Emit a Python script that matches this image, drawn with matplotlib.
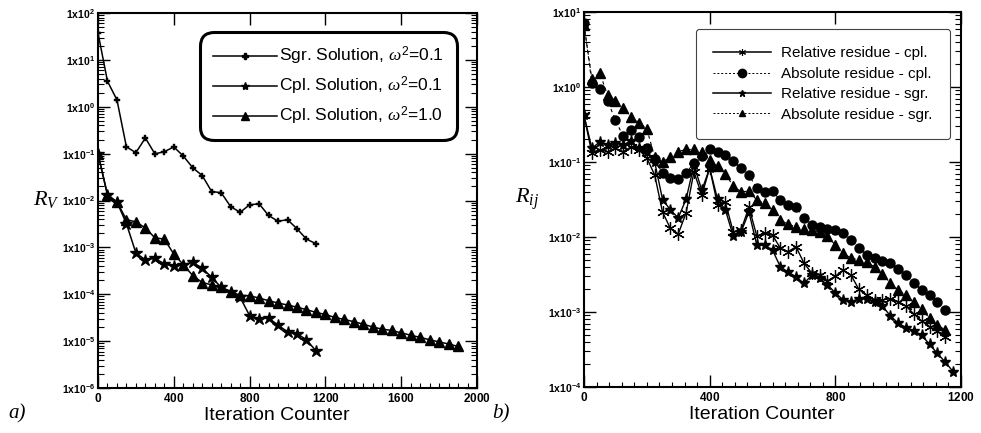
import numpy as np
import matplotlib
matplotlib.use("Agg")
import matplotlib.pyplot as plt
from matplotlib.lines import Line2D
from matplotlib.ticker import FixedLocator, FuncFormatter, LogLocator, MultipleLocator, NullFormatter

plt.rcParams['font.family'] = ['Liberation Sans', 'DejaVu Sans']
plt.rcParams['mathtext.fontset'] = 'custom'
plt.rcParams['mathtext.rm'] = 'Liberation Sans'
plt.rcParams['mathtext.bf'] = 'Liberation Sans:bold'
plt.rcParams['mathtext.it'] = 'Liberation Serif:italic'

# ---------------- data: panel a) ----------------
sgr_x = [0, 50, 100, 150, 200, 250, 300, 350, 400, 450, 500, 550, 600, 650, 700, 750,
         800, 850, 900, 950, 1000, 1050, 1100, 1150]
sgr_y = [37.5, 3.5, 1.4, 0.139, 0.105, 0.216, 0.099, 0.11, 0.139, 0.089, 0.05, 0.034,
         0.0155, 0.0147, 0.0074, 0.0056, 0.0081, 0.0085, 0.0048, 0.0036, 0.0039, 0.0025,
         0.0015, 0.0012]

cpl01_x = sgr_x
cpl01_y = [0.099, 0.0132, 0.0093, 0.0032, 7.6e-4, 5.4e-4, 5.9e-4, 4.4e-4, 4.0e-4, 4.3e-4,
           4.8e-4, 3.6e-4, 2.3e-4, 1.4e-4, 1.14e-4, 8.6e-5, 3.5e-5, 3.0e-5, 3.1e-5, 2.2e-5,
           1.58e-5, 1.44e-5, 1.07e-5, 6.2e-6]

cpl10_x = [0, 50, 100, 150, 200, 250, 300, 350, 400, 450, 500, 550, 600, 650, 700, 750,
           800, 850, 900, 950, 1000, 1050, 1100, 1150, 1200, 1250, 1300, 1350, 1400, 1450,
           1500, 1550, 1600, 1650, 1700, 1750, 1800, 1850, 1900]
cpl10_y = [0.099, 0.0132, 0.0093, 0.0039, 0.0035, 0.0026, 0.0016, 0.0015, 7.2e-4, 4.3e-4,
           2.5e-4, 1.78e-4, 1.59e-4, 1.41e-4, 1.14e-4, 9.5e-5, 9.3e-5, 8.3e-5, 7.3e-5, 6.5e-5,
           5.9e-5, 5.3e-5, 4.7e-5, 4.1e-5, 3.7e-5, 3.2e-5, 2.9e-5, 2.6e-5, 2.3e-5, 2.0e-5,
           1.8e-5, 1.69e-5, 1.5e-5, 1.34e-5, 1.2e-5, 1.07e-5, 9.6e-6, 8.7e-6, 7.7e-6]

labels_a = [r'Sgr. Solution, $\omega^2$=0.1', r'Cpl. Solution, $\omega^2$=0.1',
            r'Cpl. Solution, $\omega^2$=1.0']

# ---------------- data: panel b) ----------------
res_x = [0, 25, 50, 75, 100, 125, 150, 175, 200, 225, 250, 275, 300, 325, 350, 375, 400,
         425, 450, 475, 500, 525, 550, 575, 600, 625, 650, 675, 700, 725, 750, 775, 800,
         825, 850, 875, 900, 925, 950, 975, 1000, 1025, 1050, 1075, 1100, 1125, 1150]
abs_cpl = [7.1, 1.13, 0.94, 0.66, 0.36, 0.22, 0.27, 0.215, 0.152, 0.109, 0.071, 0.061,
           0.059, 0.071, 0.098, 0.12, 0.147, 0.137, 0.124, 0.104, 0.082, 0.067, 0.0446,
           0.040, 0.0407, 0.031, 0.0267, 0.0249, 0.018, 0.0144, 0.0137, 0.0127, 0.0124,
           0.0114, 0.0091, 0.0071, 0.0058, 0.0052, 0.0048, 0.0045, 0.0038, 0.0031, 0.00246,
           0.00196, 0.00169, 0.00137, 0.00106]
abs_sgr = [6.7, 1.28, 1.54, 0.78, 0.66, 0.53, 0.40, 0.336, 0.275, 0.117, 0.10, 0.117, 0.138,
           0.147, 0.147, 0.136, 0.106, 0.088, 0.069, 0.048, 0.040, 0.041, 0.031, 0.028,
           0.023, 0.0169, 0.0147, 0.0137, 0.0128, 0.0124, 0.0116, 0.0103, 0.0078, 0.0061,
           0.0052, 0.0050, 0.0046, 0.0040, 0.0032, 0.00244, 0.00196, 0.00166, 0.00134,
           0.00108, 8.3e-4, 6.7e-4, 5.75e-4]
rel_cpl = [0.42, 0.13, 0.145, 0.137, 0.153, 0.137, 0.16, 0.145, 0.113, 0.067, 0.0215, 0.013,
           0.011, 0.021, 0.074, 0.036, 0.083, 0.027, 0.029, 0.0117, 0.0124, 0.025, 0.0103,
           0.0113, 0.0106, 0.0071, 0.0064, 0.0074, 0.0045, 0.0033, 0.0031, 0.0026, 0.0030,
           0.0036, 0.0031, 0.0020, 0.00166, 0.00145, 0.00145, 0.0015, 0.00138, 0.0012,
           9.4e-4, 7.6e-4, 6.4e-4, 5.5e-4, 4.6e-4]
rel_sgr_x = res_x + [1175]
rel_sgr = [0.42, 0.152, 0.185, 0.17, 0.18, 0.17, 0.19, 0.152, 0.137, 0.1, 0.0316, 0.023,
           0.018, 0.032, 0.091, 0.042, 0.083, 0.032, 0.023, 0.0103, 0.0117, 0.0215, 0.0078,
           0.0078, 0.0067, 0.0040, 0.0034, 0.00295, 0.0024, 0.0031, 0.0028, 0.0023, 0.0018,
           0.00145, 0.00137, 0.0015, 0.0015, 0.00137, 0.0012, 8.9e-4, 7.1e-4, 6.2e-4,
           5.6e-4, 4.9e-4, 3.7e-4, 2.8e-4, 2.15e-4, 1.6e-4]

labels_b = ['Relative residue - cpl.', 'Absolute residue - cpl.',
            'Relative residue - sgr.', 'Absolute residue - sgr.']

ASTER = (6, 2, 0)


def dec_fmt(v, pos):
    e = int(round(np.log10(v)))
    return r'$\mathbf{1x10^{%d}}$' % e


def int_fmt(v, pos):
    return r'$\mathbf{%d}$' % int(round(v))


def style(ax, xmax, xmajor, xminor, emin, emax):
    ax.set_yscale('log')
    ax.set_xlim(0, xmax)
    ax.set_ylim(10.0 ** emin, 10.0 ** emax)
    ax.xaxis.set_major_locator(MultipleLocator(xmajor))
    ax.xaxis.set_minor_locator(MultipleLocator(xminor))
    ax.xaxis.set_major_formatter(FuncFormatter(int_fmt))
    ax.yaxis.set_major_locator(FixedLocator([10.0 ** e for e in range(emin, emax + 1)]))
    ax.yaxis.set_minor_locator(LogLocator(base=10, subs=np.arange(2, 10), numticks=100))
    ax.yaxis.set_minor_formatter(NullFormatter())
    ax.yaxis.set_major_formatter(FuncFormatter(dec_fmt))
    ax.tick_params(which='both', direction='in', top=True, right=True)
    ax.tick_params(which='major', length=8.5, width=1.0)
    ax.tick_params(which='minor', length=4.5, width=0.8)
    ax.tick_params(axis='x', which='minor', top=False, length=3.6)
    ax.tick_params(axis='y', labelsize=7.5, pad=2)
    ax.tick_params(axis='x', labelsize=8.5, pad=3)
    for s in ax.spines.values():
        s.set_linewidth(1.5)
    ax.set_xlabel('Iteration Counter', fontsize=14)
    ax.xaxis.set_label_coords(0.472, -0.05)


fig = plt.figure(figsize=(9.81, 4.33), dpi=100)
ax1 = fig.add_axes([98 / 981, 45 / 433, 379 / 981, 375 / 433])
ax2 = fig.add_axes([584 / 981, 46 / 433, 377 / 981, 375 / 433])

# ---- panel a ----
ax1.plot(sgr_x, sgr_y, color='k', lw=1.1, marker='P', ms=5, mec='k', mfc='k', mew=0.3)
ax1.plot(cpl01_x, cpl01_y, color='k', lw=1.1, marker='*', ms=9, mec='k', mfc='k')
ax1.plot(cpl10_x, cpl10_y, color='k', lw=1.1, marker='^', ms=7, mec='k', mfc='k')
style(ax1, 2000, 400, 50, -6, 2)

hA = [Line2D([], [], color='k', lw=1.1, marker='P', ms=5),
      Line2D([], [], color='k', lw=1.1, marker='*', ms=6),
      Line2D([], [], color='k', lw=1.1, marker='^', ms=6)]
legA = ax1.legend(hA, labels_a, loc='upper right', bbox_to_anchor=(0.947, 0.949),
                  fontsize=12.5, frameon=True, fancybox=True, handlelength=3.7,
                  handletextpad=0.1, labelspacing=0.45, borderpad=0.75,
                  borderaxespad=0.0, framealpha=1)
legA.get_frame().set_edgecolor('k')
legA.get_frame().set_linewidth(2.2)
legA.get_frame().set_boxstyle('round', pad=0.0, rounding_size=0.8)

# ---- panel b ----
ax2.plot(res_x, abs_cpl, color='k', lw=0.8, ls=(0, (3, 3)), marker='o', ms=6.5,
         mec='k', mfc='k')
ax2.plot(res_x, abs_sgr, color='k', lw=0.8, ls=(0, (3, 3)), marker='^', ms=6.5,
         mec='k', mfc='k')
ax2.plot(res_x, rel_cpl, color='k', lw=1.0, marker=ASTER, ms=9, mec='k', mew=0.9)
ax2.plot(rel_sgr_x, rel_sgr, color='k', lw=1.0, marker='*', ms=8, mec='k', mfc='k')
style(ax2, 1200, 400, 40, -4, 1)

hB = [Line2D([], [], color='k', lw=1.1, marker=ASTER, ms=5, mew=0.8),
      Line2D([], [], color='k', lw=0.7, ls=(0, (2, 2)), marker='o', ms=6),
      Line2D([], [], color='k', lw=1.1, marker='*', ms=5),
      Line2D([], [], color='k', lw=0.7, ls=(0, (2, 2)), marker='^', ms=5)]
legB = ax2.legend(hB, labels_b, loc='upper right', bbox_to_anchor=(0.971, 0.955),
                  fontsize=11, frameon=True, fancybox=True, handlelength=3.8,
                  handletextpad=0.65, labelspacing=0.42, borderpad=1.15,
                  borderaxespad=0.0, framealpha=1)
legB.get_frame().set_edgecolor('#444444')
legB.get_frame().set_linewidth(0.8)

# ---- axis titles / panel letters ----
fig.text(33 / 981, 1 - 200 / 433, r'$R_V$', fontsize=16, va='center', ha='left')
fig.text(515 / 981, 1 - 199 / 433, r'$R_{ij}$', fontsize=16, va='center', ha='left')
fig.text(8 / 981, 1 - 414 / 433, 'a)', family='Liberation Serif', style='italic',
         fontsize=15, va='center', ha='left')
fig.text(492 / 981, 1 - 414 / 433, 'b)', family='Liberation Serif', style='italic',
         fontsize=15, va='center', ha='left')

fig.savefig('out.png', dpi=100)
